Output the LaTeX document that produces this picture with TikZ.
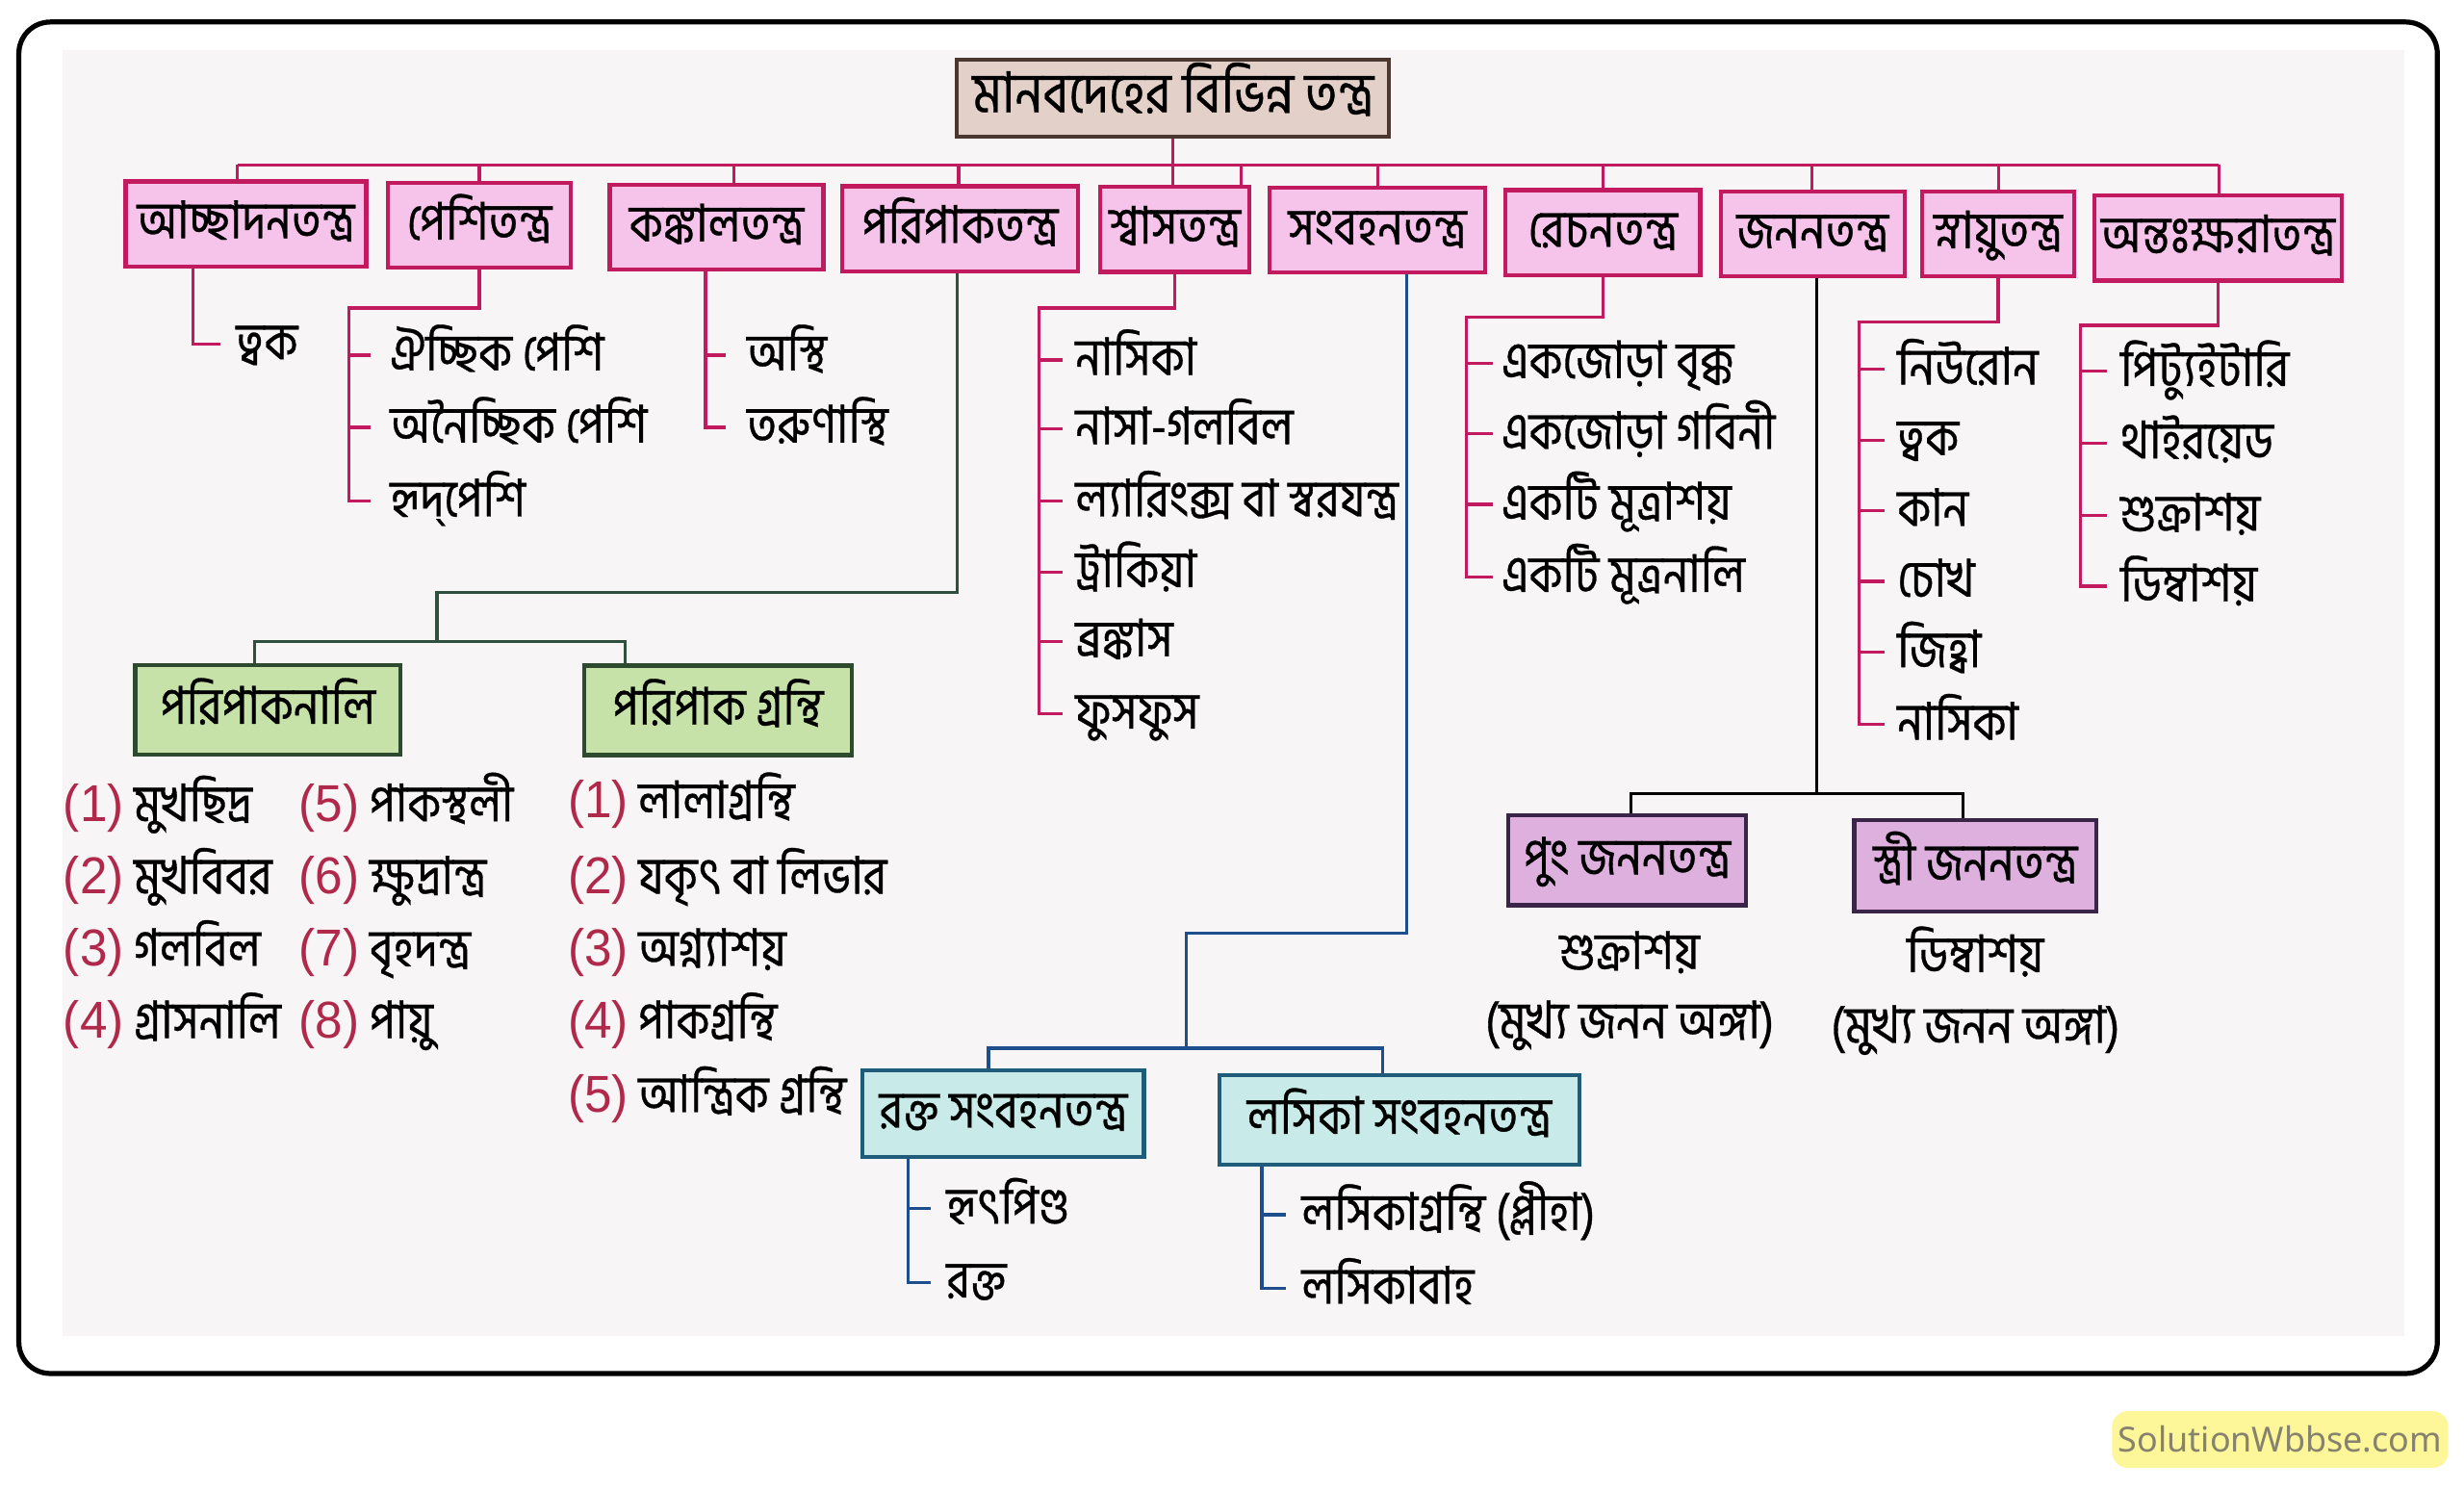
\documentclass[tikz,border=0pt]{standalone}
\usepackage{fontspec}
\newfontfamily\bn[Script=Bengali, FakeStretch=0.87, FakeBold=0.6]{Hind Siliguri}
\newfontfamily\numf[FakeStretch=0.95]{Liberation Sans}
\newfontfamily\wmfont{Noto Sans}
\definecolor{crim}{HTML}{C21A5F}
\definecolor{pinkf}{HTML}{F6C4EA}
\definecolor{rootf}{HTML}{E3D1C9}
\definecolor{rootd}{HTML}{4A3830}
\definecolor{greenf}{HTML}{C6E2A8}
\definecolor{greend}{HTML}{2E4A2E}
\definecolor{gline}{HTML}{2F4F3F}
\definecolor{tealf}{HTML}{C8EAE8}
\definecolor{teald}{HTML}{1E5C7A}
\definecolor{bline}{HTML}{1F4E8C}
\definecolor{purpf}{HTML}{DDB0DE}
\definecolor{purpd}{HTML}{3A2448}
\definecolor{numc}{HTML}{B0284A}
\definecolor{scanbg}{HTML}{F7F5F5}
\definecolor{wmy}{HTML}{FDF79A}
\definecolor{wmt}{HTML}{86826E}
\newcommand\nm[1]{\textcolor{numc}{\numf\fontsize{16.5}{18}\selectfont(#1)}}
\begin{document}
\begin{tikzpicture}[x=0.5pt,y=-0.5pt,
  every node/.style={font=\bn\fontsize{16.5}{18}\selectfont},
  box/.style={draw, line width=1.3pt, inner sep=0pt, text height=12pt, text depth=3pt},
  rootbox/.style={box, draw=rootd, fill=rootf},
  pinkbox/.style={box, draw=crim, fill=pinkf, minimum height=27pt},
  greenbox/.style={box, draw=greend, fill=greenf},
  tealbox/.style={box, draw=teald, fill=tealf},
  purpbox/.style={box, draw=purpd, fill=purpf},
  lt/.style={anchor=west, inner sep=0pt, text height=12pt, text depth=2.4pt},
  ct/.style={inner sep=0pt, text height=12pt, text depth=2.4pt},
  cl/.style={draw=crim, line width=1pt},
  gl/.style={draw=gline, line width=1pt},
  bl/.style={draw=bline, line width=1pt},
  kl/.style={draw=black, line width=1pt}]
\useasboundingbox (0,0) rectangle (1568,948);
\fill[white] (0,0) rectangle (1568,948);
\draw[line width=1.6pt, rounded corners=10pt, fill=white] (12,14) rectangle (1551,874);
\fill[scanbg] (40,32) rectangle (1530,850);

% root
\node[rootbox, minimum width=137.5pt, minimum height=24.5pt, font=\bn\fontsize{18}{20}\selectfont] (root) at (746.5,62.5) {মানবদেহের বিভিন্ন তন্ত্র};

% top row
\node[pinkbox, minimum width=76.5pt] (achh) at (156.5,142.5) {আচ্ছাদনতন্ত্র};
\node[pinkbox, minimum width=58pt] (pesi) at (305,143.5) {পেশিতন্ত্র};
\node[pinkbox, minimum width=68pt] (konk) at (456,144.5) {কঙ্কালতন্ত্র};
\node[pinkbox, minimum width=75pt] (pori) at (611,145.5) {পরিপাকতন্ত্র};
\node[pinkbox, minimum width=47.5pt] (shas) at (747.5,146) {শ্বাসতন্ত্র};
\node[pinkbox, minimum width=68.5pt] (songb) at (876.5,146.5) {সংবহনতন্ত্র};
\node[pinkbox, minimum width=62pt] (rech) at (1020,148) {রেচনতন্ত্র};
\node[pinkbox, minimum width=58.5pt] (jon) at (1153.5,149) {জননতন্ত্র};
\node[pinkbox, minimum width=48.5pt] (snay) at (1271.5,149) {স্নায়ুতন্ত্র};
\node[pinkbox, minimum width=78.5pt] (ontho) at (1411.5,151.5) {অন্তঃক্ষরাতন্ত্র};

% bus
\coordinate (d1) at (151,105);
\coordinate (d2) at (305,105);
\coordinate (d3) at (467,105);
\coordinate (d4) at (610,105);
\coordinate (d5) at (790,105);
\coordinate (d6) at (877,105);
\coordinate (d7) at (1020,105);
\coordinate (d8) at (1153,105);
\coordinate (d9) at (1272,105);
\coordinate (d10) at (1412,105);
\draw[cl] (d1) -- (d10);
\draw[cl] (root.south) -- (root.south |- shas.north);
\draw[cl] (d1) -- (d1 |- achh.north);
\draw[cl] (d2) -- (d2 |- pesi.north);
\draw[cl] (d3) -- (d3 |- konk.north);
\draw[cl] (d4) -- (d4 |- pori.north);
\draw[cl] (d5) -- (d5 |- shas.north);
\draw[cl] (d6) -- (d6 |- songb.north);
\draw[cl] (d7) -- (d7 |- rech.north);
\draw[cl] (d8) -- (d8 |- jon.north);
\draw[cl] (d9) -- (d9 |- snay.north);
\draw[cl] (d10) -- (d10 |- ontho.north);

% achhadan
\node[lt] (ta1) at (150,219) {ত্বক};
\coordinate (va) at (123,0);
\draw[cl] (va |- achh.south) -- (va |- ta1.west) -- ([xshift=-5pt]ta1.west);

% pesi
\node[lt] (tp1) at (248,226) {ঐচ্ছিক পেশি};
\node[lt] (tp2) at (248,272) {অনৈচ্ছিক পেশি};
\node[lt] (tp3) at (248,319) {হৃদ্‌পেশি};
\coordinate (hp) at (222,196);
\draw[cl] (pesi.south) |- (hp) -- (hp |- tp3.west) -- ([xshift=-6pt]tp3.west);
\draw[cl] (hp |- tp1.west) -- ([xshift=-6pt]tp1.west);
\draw[cl] (hp |- tp2.west) -- ([xshift=-6pt]tp2.west);

% konkal
\node[lt] (tk1) at (475,226) {অস্থি};
\node[lt] (tk2) at (475,272) {তরুণাস্থি};
\coordinate (vk) at (449,0);
\draw[cl] (vk |- konk.south) -- (vk |- tk2.west) -- ([xshift=-6.5pt]tk2.west);
\draw[cl] (vk |- tk1.west) -- ([xshift=-6.5pt]tk1.west);

% poripak
\node[greenbox, minimum width=84.5pt, minimum height=28.5pt] (pnali) at (170.5,451.5) {পরিপাকনালি};
\node[greenbox, minimum width=85pt, minimum height=28.5pt] (pgran) at (457,452) {পরিপাক গ্রন্থি};
\coordinate (vpo) at (609,0);
\coordinate (hpo) at (278,377);
\coordinate (jpo) at (278,408);
\coordinate (g1) at (162,408);
\coordinate (g2) at (398,408);
\draw[gl] (vpo |- pori.south) |- (hpo) -- (jpo);
\draw[gl] (g1 |- pnali.north) -- (g1) -- (g2) -- (g2 |- pgran.north);

\node[lt] (n1) at (40,513) {\nm{1} মুখছিদ্র};
\node[lt] (n2) at (40,559) {\nm{2} মুখবিবর};
\node[lt] (n3) at (40,605) {\nm{3} গলবিল};
\node[lt] (n4) at (40,651) {\nm{4} গ্রাসনালি};
\node[lt] (n5) at (190,513) {\nm{5} পাকস্থলী};
\node[lt] (n6) at (190,559) {\nm{6} ক্ষুদ্রান্ত্র};
\node[lt] (n7) at (190,605) {\nm{7} বৃহদন্ত্র};
\node[lt] (n8) at (190,651) {\nm{8} পায়ু};
\node[lt] (m1) at (361,511) {\nm{1} লালাগ্রন্থি};
\node[lt] (m2) at (361,559) {\nm{2} যকৃৎ বা লিভার};
\node[lt] (m3) at (361,605) {\nm{3} অগ্ন্যাশয়};
\node[lt] (m4) at (361,651) {\nm{4} পাকগ্রন্থি};
\node[lt] (m5) at (361,698) {\nm{5} আন্ত্রিক গ্রন্থি};

% shas
\node[lt] (ts1) at (684,229) {নাসিকা};
\node[lt] (ts2) at (684,273) {নাসা-গলবিল};
\node[lt] (ts3) at (684,319) {ল্যারিংক্স বা স্বরযন্ত্র};
\node[lt] (ts4) at (684,364) {ট্রাকিয়া};
\node[lt] (ts5) at (684,408) {ব্রঙ্কাস};
\node[lt] (ts6) at (684,454) {ফুসফুস};
\coordinate (hs) at (661,196);
\draw[cl] (shas.south) |- (hs) -- (hs |- ts6.west) -- ([xshift=-4pt]ts6.west);
\foreach \t in {ts1,ts2,ts3,ts4,ts5} \draw[cl] (hs |- \t.west) -- ([xshift=-4pt]\t.west);

% songbahan
\node[tealbox, minimum width=89.5pt, minimum height=27.5pt] (rokto) at (638.5,708.5) {রক্ত সংবহনতন্ত্র};
\node[tealbox, minimum width=114.5pt, minimum height=28.5pt] (losika) at (890.5,712.5) {লসিকা সংবহনতন্ত্র};
\coordinate (vsb) at (895,0);
\coordinate (hsb) at (755,594);
\coordinate (jsb) at (755,667);
\coordinate (r1) at (629,667);
\coordinate (r2) at (880,667);
\draw[bl] (vsb |- songb.south) |- (hsb) -- (jsb);
\draw[bl] (r1 |- rokto.north) -- (r1) -- (r2) -- (r2 |- losika.north);

\node[lt] (tr1) at (602,769) {হৃৎপিণ্ড};
\node[lt] (tr2) at (602,816) {রক্ত};
\coordinate (vr) at (578,0);
\draw[bl] (vr |- rokto.south) -- (vr |- tr2.west) -- ([xshift=-5pt]tr2.west);
\draw[bl] (vr |- tr1.west) -- ([xshift=-5pt]tr1.west);

\node[lt] (tl1) at (828,773) {লসিকাগ্রন্থি (প্লীহা)};
\node[lt] (tl2) at (828,820) {লসিকাবাহ};
\coordinate (vl) at (803,0);
\draw[bl] (vl |- losika.south) -- (vl |- tl2.west) -- ([xshift=-5pt]tl2.west);
\draw[bl] (vl |- tl1.west) -- ([xshift=-5pt]tl1.west);

% rechan
\node[lt] (te1) at (955,231) {একজোড়া বৃক্ক};
\node[lt] (te2) at (955,276) {একজোড়া গবিনী};
\node[lt] (te3) at (955,321) {একটি মূত্রাশয়};
\node[lt] (te4) at (955,367) {একটি মূত্রনালি};
\coordinate (he) at (933,202);
\draw[cl] (rech.south) |- (he) -- (he |- te4.west) -- ([xshift=-2.5pt]te4.west);
\foreach \t in {te1,te2,te3} \draw[cl] (he |- \t.west) -- ([xshift=-2.5pt]\t.west);

% janan
\node[purpbox, minimum width=75.5pt, minimum height=28.5pt] (pung) at (1035.5,547.5) {পুং জননতন্ত্র};
\node[purpbox, minimum width=77pt, minimum height=29pt] (stri) at (1257,551) {স্ত্রী জননতন্ত্র};
\coordinate (vj) at (1156,0);
\coordinate (j1) at (1038,505);
\coordinate (j2) at (1249,505);
\draw[kl] (vj |- jon.south) -- (vj |- j1);
\draw[kl] (j1 |- pung.north) -- (j1) -- (j2) -- (j2 |- stri.north);
\node[ct] (pj1) at (1037,607) {শুক্রাশয়};
\node[ct] (pj2) at (1037,651) {(মুখ্য জনন অঙ্গা)};
\node[ct] (sj1) at (1257,609) {ডিম্বাশয়};
\node[ct] (sj2) at (1257,654) {(মুখ্য জনন অঙ্গা)};

% snayu
\node[lt] (tn1) at (1207,235) {নিউরোন};
\node[lt] (tn2) at (1207,280) {ত্বক};
\node[lt] (tn3) at (1207,325) {কান};
\node[lt] (tn4) at (1207,370) {চোখ};
\node[lt] (tn5) at (1207,415) {জিহ্বা};
\node[lt] (tn6) at (1207,461) {নাসিকা};
\coordinate (hn) at (1183,205);
\draw[cl] (snay.south) |- (hn) -- (hn |- tn6.west) -- ([xshift=-4pt]tn6.west);
\foreach \t in {tn1,tn2,tn3,tn4,tn5} \draw[cl] (hn |- \t.west) -- ([xshift=-4pt]\t.west);

% antahkshara
\node[lt] (to1) at (1349,236) {পিট্যুইটারি};
\node[lt] (to2) at (1349,282) {থাইরয়েড};
\node[lt] (to3) at (1349,328) {শুক্রাশয়};
\node[lt] (to4) at (1349,373) {ডিম্বাশয়};
\coordinate (ho) at (1324,207);
\draw[cl] (ontho.south) |- (ho) -- (ho |- to4.west) -- ([xshift=-4pt]to4.west);
\foreach \t in {to1,to2,to3} \draw[cl] (ho |- \t.west) -- ([xshift=-4pt]\t.west);

% watermark
\node[fill=wmy, rounded corners=5pt, minimum width=107pt, minimum height=18pt, inner sep=0pt, text=wmt, font=\wmfont\bfseries\fontsize{11}{13}\selectfont] (wm) at (1451,916) {SolutionWbbse.com};
\end{tikzpicture}
\end{document}
